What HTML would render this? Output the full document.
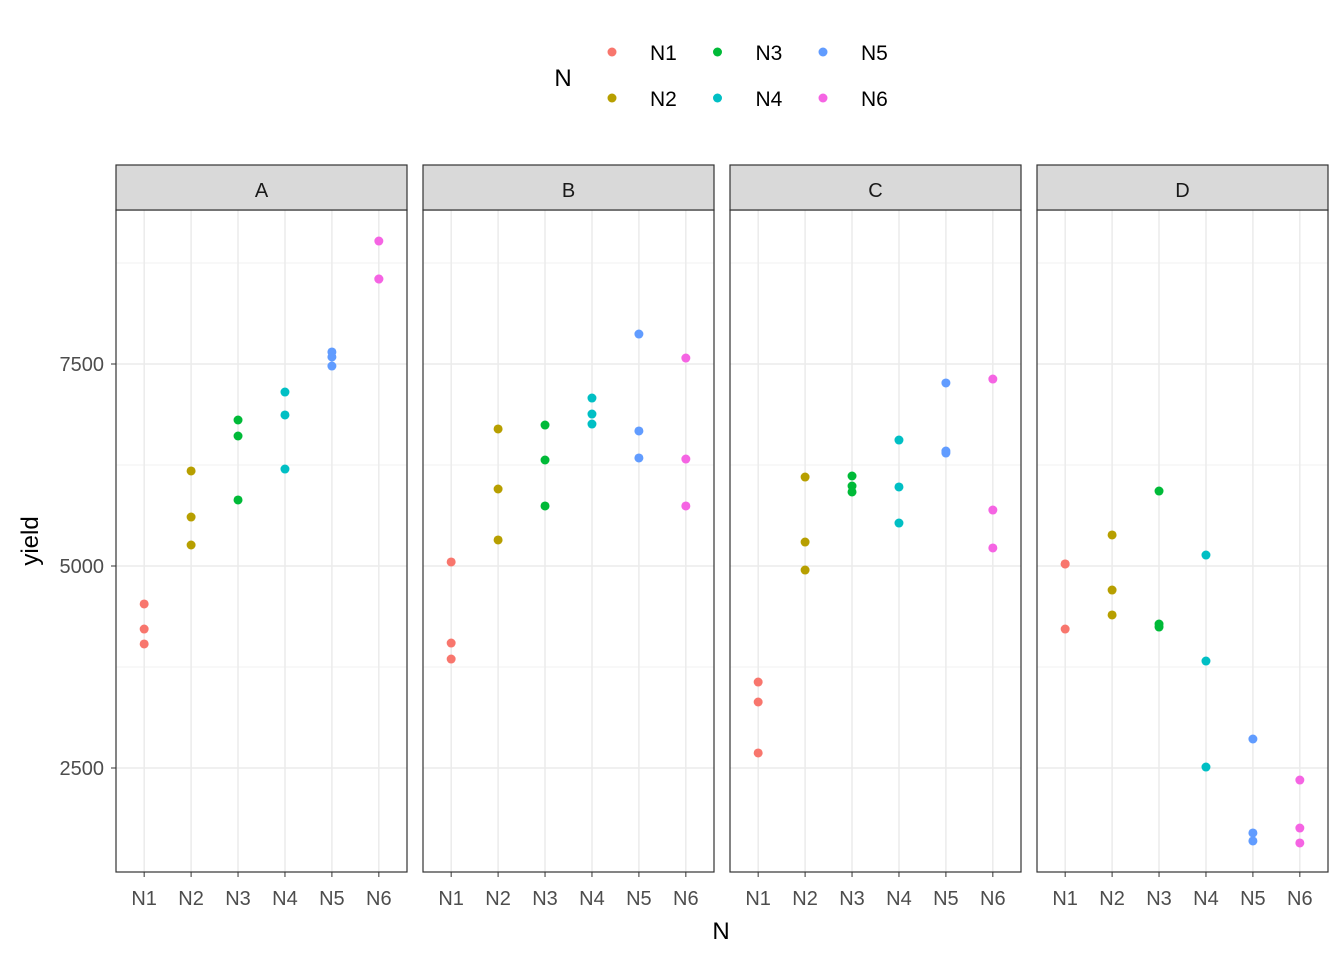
<!DOCTYPE html>
<html><head><meta charset="utf-8"><style>
body{margin:0;background:#fff;}
svg{display:block;font-family:"Liberation Sans",Arial,sans-serif;}
</style></head><body>
<svg id="chart" width="1344" height="960"></svg>
<script>
const facets=["A","B","C","D"];
const categories=["N1","N2","N3","N4","N5","N6"];
const colors=["#F8766D","#B79F00","#00BA38","#00BFC4","#619CFF","#F564E3"];
const yTicks=[2500,5000,7500];
const valuesA=[[4530,4220,4035],[6176,5606,5260],[6807,6609,5817],[7153,6869,6200],[7649,7587,7475],[9022,8552,8552]];
const valuesB=[[5050,4047,3849],[6696,5953,5322],[6745,6312,5743],[7079,6881,6757],[7871,6671,6337],[7574,6324,5743]];
const valuesC=[[3564,3317,2686],[6101,5297,4950],[6114,5990,5916],[6559,5978,5532],[7265,6423,6398],[7314,5693,5223]];
const valuesD=[[5025,4220,5025],[5384,4703,4394],[5928,4282,4245],[5136,3824,2512],[2859,1696,1597],[2351,1757,1572]];
const allValues=[valuesA,valuesB,valuesC,valuesD];
{
const NS="http://www.w3.org/2000/svg";
const svg=document.getElementById("chart");
function el(tag,attrs,parent){const e=document.createElementNS(NS,tag);for(const k in attrs)e.setAttribute(k,attrs[k]);(parent||svg).appendChild(e);return e;}
const panelX=[116,423,730,1037],panelW=291,plotTop=210,plotBottom=872;
const yMin=1213,yMax=9406;
function y(v){return plotBottom-(v-yMin)/(yMax-yMin)*(plotBottom-plotTop);}
function x(p,i){return panelX[p]+(i+1-0.4)/6.2*panelW;}

facets.forEach((f,p)=>{
  const g=el("g",{});
  
  
  const x0=panelX[p];
  el("rect",{x:x0,y:plotTop,width:panelW,height:plotBottom-plotTop,fill:"#fff"},g);
  for(let k=0;k<yTicks.length;k++){
    const mv=yTicks[k]+1250;
    el("line",{x1:x0,x2:x0+panelW,y1:y(mv),y2:y(mv),stroke:"#f2f2f2","stroke-width":1},g);
  }
  yTicks.forEach(t=>el("line",{x1:x0,x2:x0+panelW,y1:y(t),y2:y(t),stroke:"#ebebeb","stroke-width":1.5},g));
  categories.forEach((c,i)=>{
    el("line",{x1:x(p,i),x2:x(p,i),y1:plotTop,y2:plotBottom,stroke:"#ebebeb","stroke-width":1.5},g);
    el("line",{x1:x(p,i),x2:x(p,i),y1:plotBottom,y2:plotBottom+5,stroke:"#333","stroke-width":1},g);
    const t=el("text",{x:x(p,i),y:plotBottom+33,"text-anchor":"middle","font-size":20,fill:"#4d4d4d"},g);
    t.textContent=c;
    
    
  });
  allValues[p].forEach((arr,i)=>arr.forEach(v=>{
    const c=el("circle",{cx:x(p,i),cy:y(v),r:4.5,fill:colors[i]},g);
    
    
  }));
  el("rect",{x:x0,y:plotTop,width:panelW,height:plotBottom-plotTop,fill:"none",stroke:"#333","stroke-width":1.2},g);
  const s=el("rect",{x:x0,y:165,width:panelW,height:45,fill:"#d9d9d9",stroke:"#333","stroke-width":1.2},g);
  
  
  const st=el("text",{x:x0+panelW/2,y:197,"text-anchor":"middle","font-size":20,fill:"#1a1a1a"},g);
  st.textContent=f;
});
yTicks.forEach(t=>{
  el("line",{x1:111,x2:116,y1:y(t),y2:y(t),stroke:"#333"});
  const tx=el("text",{x:104,y:y(t)+7,"text-anchor":"end","font-size":20,fill:"#4d4d4d"});
  tx.textContent=t;
  
  
});
const yt=el("text",{x:0,y:0,transform:"translate(38,541) rotate(-90)","text-anchor":"middle","font-size":24,fill:"#000"});
yt.textContent="yield";


const xt=el("text",{x:721,y:939,"text-anchor":"middle","font-size":24,fill:"#000"});
xt.textContent="N";


const lt=el("text",{x:563,y:86,"text-anchor":"middle","font-size":24,fill:"#000"});
lt.textContent="N";


categories.forEach((c,i)=>{
  const col=Math.floor(i/2),row=i%2;
  const lx=612+col*105.5,ly=52+row*46;
  const lg=el("g",{});
  
  
  el("circle",{cx:lx,cy:ly,r:4.5,fill:colors[i]},lg);
  const t=el("text",{x:lx+38,y:ly+8,"font-size":21,fill:"#000"},lg);
  t.textContent=c;
});
}
</script>
</body></html>
